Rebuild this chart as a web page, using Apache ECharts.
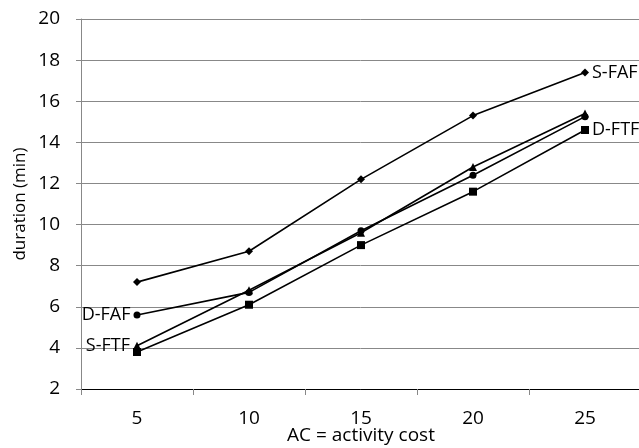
<!DOCTYPE html>
<html><head><meta charset="utf-8">
<script src="https://cdn.jsdelivr.net/npm/echarts@6/dist/echarts.min.js"></script>
<style>html,body{margin:0;padding:0;background:#fff}#c{width:639px;height:448px}</style>
</head><body><div id="c"></div>
<script>
const categories = ['5','10','15','20','25'];
const sFAF = [7.2, 8.7, 12.2, 15.3, 17.4];
const dFAF = [5.6, 6.7, 9.7, 12.4, 15.25];
const sFTF = [4.1, 6.8, 9.6, 12.8, 15.4];
const dFTF = [3.8, 6.1, 9.0, 11.6, 14.6];
const yTicks = [2, 20, 2]; // min, max, interval

const font = 'Open Sans, Liberation Sans, sans-serif';
function ser(name, data, symbol, size, labelIdx, pos) {
  return {
    name, type: 'line', data, symbol, symbolSize: size,
    lineStyle: {color: '#000', width: 1.6}, itemStyle: {color: '#000'},
    label: {show: true, position: pos, color: '#000', fontSize: 18, fontFamily: font, distance: 3,
      formatter: p => p.dataIndex === labelIdx ? name : ''},
    animation: false, z: 3
  };
}
const chart = echarts.init(document.getElementById('c'));
chart.setOption({
  backgroundColor: '#fff',
  grid: {left: 81, top: 19, width: 560, height: 370, containLabel: false, outerBoundsMode: 'none'},
  xAxis: {
    type: 'category', data: categories, boundaryGap: true,
    name: 'AC = activity cost', nameLocation: 'middle', nameGap: 37, nameMoveOverlap: false,
    nameTextStyle: {color: '#000', fontSize: 19, fontFamily: font},
    axisLine: {lineStyle: {color: '#000', width: 1}},
    axisTick: {show: true, length: 6, lineStyle: {color: '#888'}},
    axisLabel: {color: '#000', fontSize: 19, fontFamily: font, margin: 20}
  },
  yAxis: {
    type: 'value', min: yTicks[0], max: yTicks[1], interval: yTicks[2],
    name: 'duration (min)', nameLocation: 'middle', nameGap: 52, nameMoveOverlap: false,
    nameTextStyle: {color: '#000', fontSize: 17, fontFamily: font},
    axisLine: {show: true, lineStyle: {color: '#888'}},
    axisTick: {show: true, length: 5, lineStyle: {color: '#888'}},
    axisLabel: {color: '#000', fontSize: 19, fontFamily: font, margin: 21},
    splitLine: {lineStyle: {color: '#888', width: 1}}
  },
  series: [
    ser('S-FAF', sFAF, 'diamond', 8, 4, 'right'),
    ser('D-FAF', dFAF, 'circle', 7, 0, 'left'),
    ser('S-FTF', sFTF, 'triangle', 8, 0, 'left'),
    ser('D-FTF', dFTF, 'rect', 8, 4, 'right')
  ]
});
</script></body></html>
